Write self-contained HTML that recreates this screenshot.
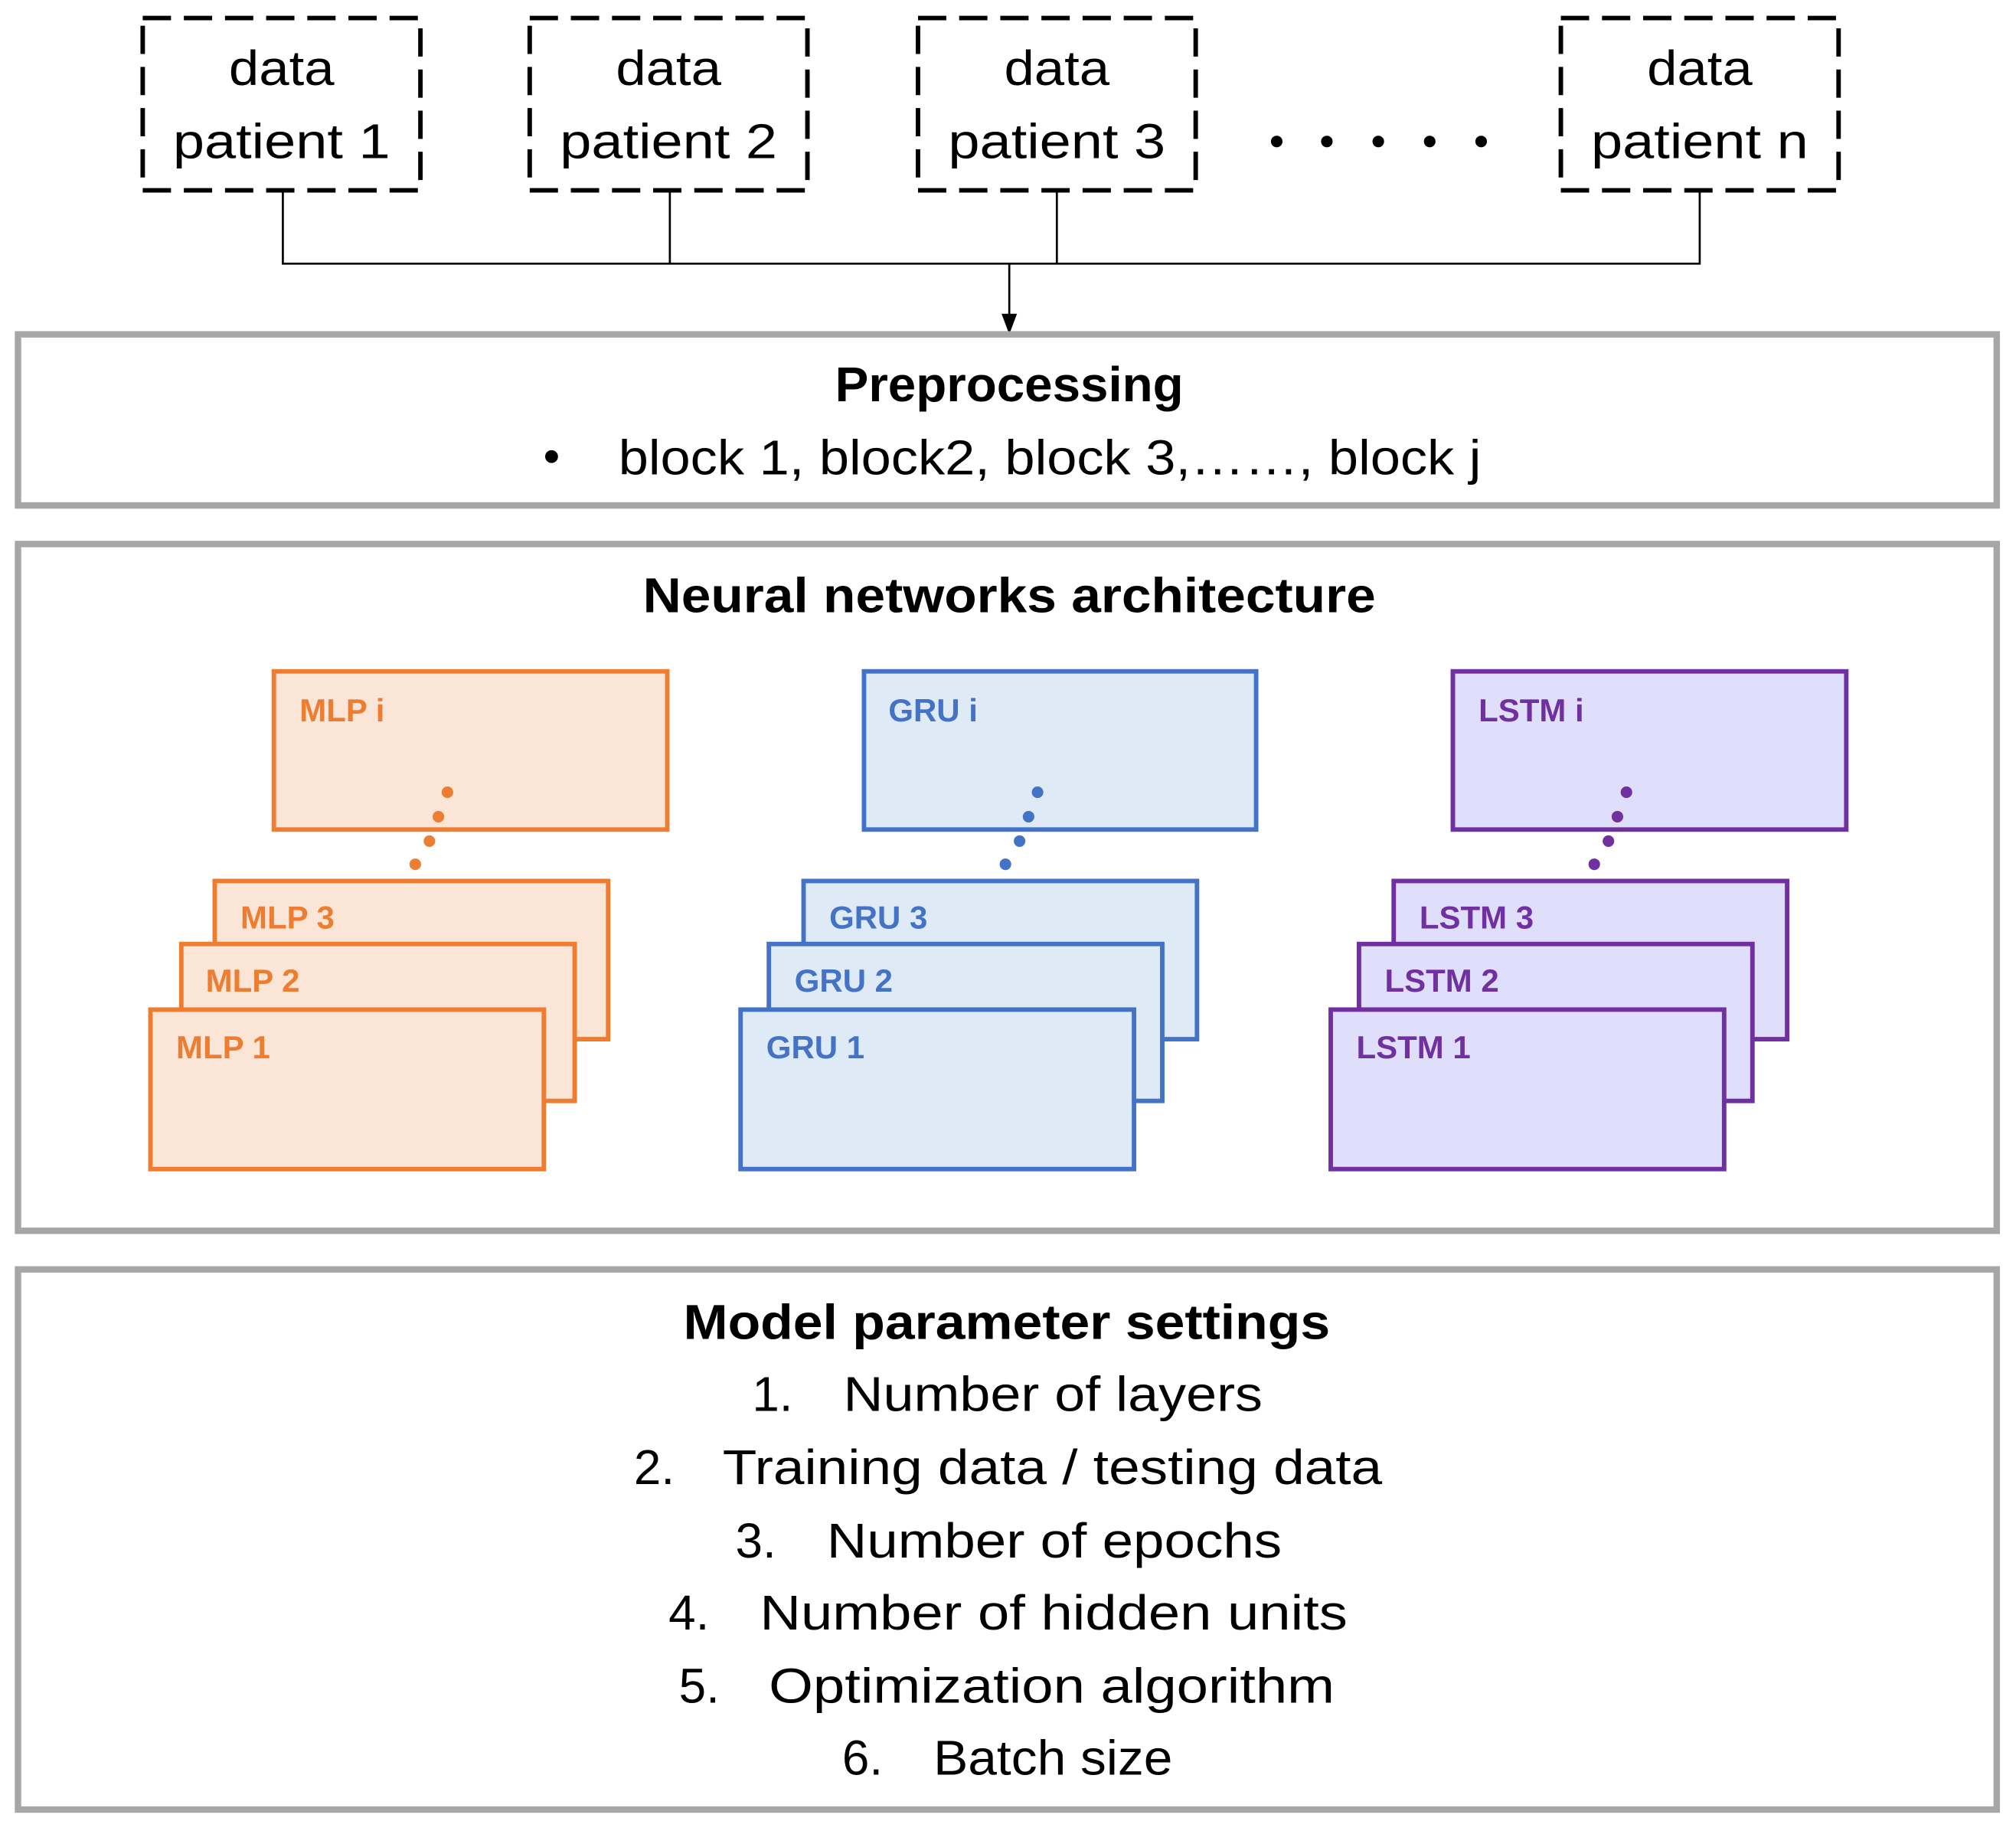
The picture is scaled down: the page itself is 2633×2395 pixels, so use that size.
<!DOCTYPE html>
<html><head><meta charset="utf-8"><style>html,body{margin:0;padding:0;background:#fff}svg{display:block}</style></head>
<body>
<svg width="2633" height="2395" viewBox="0 0 1568 1426" preserveAspectRatio="none" xmlns="http://www.w3.org/2000/svg" font-family="Liberation Sans, sans-serif">
<rect width="1568" height="1426" fill="#fff"/>
<g fill="none" stroke="#000" stroke-width="3.5" stroke-dasharray="22 10">
<rect x="111" y="14" width="216" height="134"/>
<rect x="412" y="14" width="216" height="134"/>
<rect x="714" y="14" width="216" height="134"/>
<rect x="1214" y="14" width="216" height="134"/>
</g>
<g font-size="38" text-anchor="middle" fill="#000">
<text x="219" y="66" textLength="82" lengthAdjust="spacingAndGlyphs">data</text>
<text x="219" y="123" textLength="169" lengthAdjust="spacingAndGlyphs">patient 1</text>
<text x="520" y="66" textLength="82" lengthAdjust="spacingAndGlyphs">data</text>
<text x="520" y="123" textLength="169" lengthAdjust="spacingAndGlyphs">patient 2</text>
<text x="822" y="66" textLength="82" lengthAdjust="spacingAndGlyphs">data</text>
<text x="822" y="123" textLength="169" lengthAdjust="spacingAndGlyphs">patient 3</text>
<text x="1322" y="66" textLength="82" lengthAdjust="spacingAndGlyphs">data</text>
<text x="1322" y="123" textLength="169" lengthAdjust="spacingAndGlyphs">patient n</text>
</g>
<g fill="#000"><circle cx="993" cy="110" r="4.5"/><circle cx="1032" cy="110" r="4.5"/><circle cx="1072" cy="110" r="4.5"/><circle cx="1112" cy="110" r="4.5"/><circle cx="1152" cy="110" r="4.5"/></g>
<g stroke="#000" stroke-width="1.6" fill="none">
<path d="M220 148V205H1322V148M521 148V205M822 148V205M785 205V247"/>
</g>
<path d="M779 244L791 244L785 260Z" fill="#000"/>
<g fill="none" stroke="#a6a6a6" stroke-width="5">
<rect x="14" y="260" width="1539" height="133"/>
<rect x="14" y="423" width="1539" height="534"/>
<rect x="14" y="987" width="1539" height="420"/>
</g>
<g fill="#000" font-size="38">
<text x="785" y="312" text-anchor="middle" font-weight="bold" textLength="271" lengthAdjust="spacingAndGlyphs">Preprocessing</text>
<circle cx="429" cy="355" r="5"/>
<text x="481" y="369" textLength="671" lengthAdjust="spacingAndGlyphs">block 1, block2, block 3,……, block j</text>
<text x="785" y="476" text-anchor="middle" font-weight="bold" textLength="570" lengthAdjust="spacingAndGlyphs">Neural networks architecture</text>
<text x="783" y="1041" text-anchor="middle" font-weight="bold" textLength="503" lengthAdjust="spacingAndGlyphs">Model parameter settings</text>
<text x="585" y="1097">1.</text><text x="656" y="1097" textLength="326" lengthAdjust="spacingAndGlyphs">Number of layers</text>
<text x="493" y="1154">2.</text><text x="562" y="1154" textLength="513" lengthAdjust="spacingAndGlyphs">Training data / testing data</text>
<text x="572" y="1211">3.</text><text x="643" y="1211" textLength="354" lengthAdjust="spacingAndGlyphs">Number of epochs</text>
<text x="520" y="1267">4.</text><text x="591" y="1267" textLength="457" lengthAdjust="spacingAndGlyphs">Number of hidden units</text>
<text x="528" y="1324">5.</text><text x="598" y="1324" textLength="440" lengthAdjust="spacingAndGlyphs">Optimization algorithm</text>
<text x="655" y="1380">6.</text><text x="726" y="1380" textLength="186" lengthAdjust="spacingAndGlyphs">Batch size</text>
</g>
<!-- MLP -->
<g stroke="#ed7d31" stroke-width="3.5" fill="#fbe5d6">
<rect x="213" y="522" width="306" height="123"/>
<rect x="167" y="685" width="306" height="123"/>
<rect x="141" y="734" width="306" height="122"/>
<rect x="117" y="785" width="306" height="124"/>
</g>
<g fill="#ed7d31"><circle cx="348" cy="616" r="4.5"/><circle cx="341" cy="635" r="4.5"/><circle cx="334" cy="654" r="4.5"/><circle cx="323" cy="672" r="4.5"/></g>
<g fill="#ed7d31" font-size="25" font-weight="bold">
<text x="233" y="561">MLP i</text><text x="187" y="722">MLP 3</text><text x="160" y="771">MLP 2</text><text x="137" y="823">MLP 1</text>
</g>
<!-- GRU -->
<g stroke="#4472c4" stroke-width="3.5" fill="#deebf7">
<rect x="672" y="522" width="305" height="123"/>
<rect x="625" y="685" width="306" height="123"/>
<rect x="598" y="734" width="306" height="122"/>
<rect x="576" y="785" width="306" height="124"/>
</g>
<g fill="#4472c4"><circle cx="807" cy="616" r="4.5"/><circle cx="800" cy="635" r="4.5"/><circle cx="793" cy="654" r="4.5"/><circle cx="782" cy="672" r="4.5"/></g>
<g fill="#4472c4" font-size="25" font-weight="bold">
<text x="691" y="561">GRU i</text><text x="645" y="722">GRU 3</text><text x="618" y="771">GRU 2</text><text x="596" y="823">GRU 1</text>
</g>
<!-- LSTM -->
<g stroke="#7030a0" stroke-width="3.5" fill="#e0dffb">
<rect x="1130" y="522" width="306" height="123"/>
<rect x="1084" y="685" width="306" height="123"/>
<rect x="1057" y="734" width="306" height="122"/>
<rect x="1035" y="785" width="306" height="124"/>
</g>
<g fill="#7030a0"><circle cx="1265" cy="616" r="4.5"/><circle cx="1258" cy="635" r="4.5"/><circle cx="1251" cy="654" r="4.5"/><circle cx="1240" cy="672" r="4.5"/></g>
<g fill="#7030a0" font-size="25" font-weight="bold">
<text x="1150" y="561">LSTM i</text><text x="1104" y="722">LSTM 3</text><text x="1077" y="771">LSTM 2</text><text x="1055" y="823">LSTM 1</text>
</g>
</svg>
</body></html>
